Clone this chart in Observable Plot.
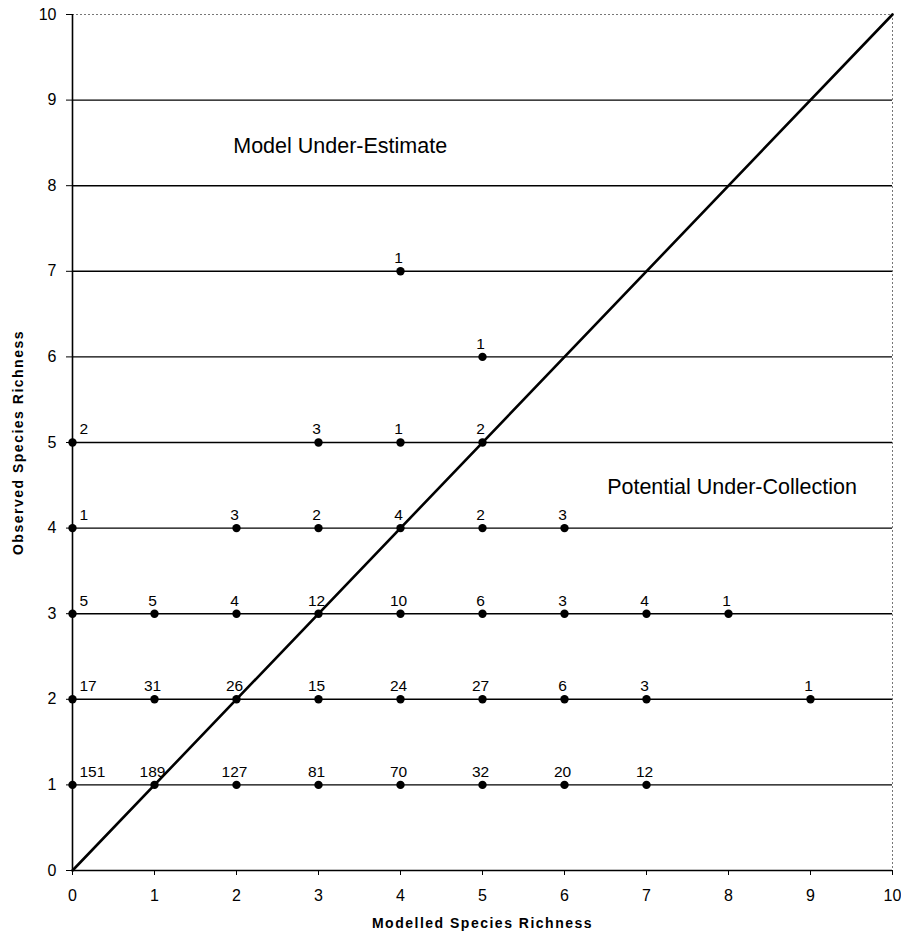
<!DOCTYPE html>
<html>
<head>
<meta charset="utf-8">
<script src="https://cdn.jsdelivr.net/npm/d3@7"></script>
<script src="https://cdn.jsdelivr.net/npm/@observablehq/plot@0.6"></script>
<style>
  html, body { margin: 0; padding: 0; background: #fff; }
  #chart svg { display: block; }
</style>
</head>
<body>
<div id="chart"></div>
<script>
// Modelled species richness (x), observed species richness (y), number of cells (count)
const modelled = [4, 5, 0, 3, 4, 5, 0, 2, 3, 4, 5, 6, 0, 1, 2, 3, 4, 5, 6, 7, 8, 0, 1, 2, 3, 4, 5, 6, 7, 9, 0, 1, 2, 3, 4, 5, 6, 7];
const observed = [7, 6, 5, 5, 5, 5, 4, 4, 4, 4, 4, 4, 3, 3, 3, 3, 3, 3, 3, 3, 3, 2, 2, 2, 2, 2, 2, 2, 2, 2, 1, 1, 1, 1, 1, 1, 1, 1];
const counts   = [1, 1, 2, 3, 1, 2, 1, 3, 2, 4, 2, 3, 5, 5, 4, 12, 10, 6, 3, 4, 1, 17, 31, 26, 15, 24, 27, 6, 3, 1, 151, 189, 127, 81, 70, 32, 20, 12];

const gridLevels = [1, 2, 3, 4, 5, 6, 7, 8, 9];
const tickValues = [0, 1, 2, 3, 4, 5, 6, 7, 8, 9, 10];
const diagonalX = [0, 10];
const diagonalY = [0, 10];
const annotationText = ["Model Under-Estimate", "Potential Under-Collection"];
const annotationX = [1.96, 6.52];
const annotationY = [8.46, 4.48];
const xTitle = "Modelled Species Richness";
const yTitle = "Observed Species Richness";

const points = modelled.map((x, i) => ({x, y: observed[i], n: counts[i]}));
const diagonal = diagonalX.map((x, i) => ({x, y: diagonalY[i]}));
const annotations = annotationText.map((t, i) => ({t, x: annotationX[i], y: annotationY[i]}));

const font = "Liberation Sans, Arial, Helvetica, sans-serif";

const chart = Plot.plot({
  width: 901,
  height: 939,
  marginLeft: 72,
  marginRight: 9,
  marginTop: 14,
  marginBottom: 69,
  style: {fontFamily: font, color: "#000", background: "#fff"},
  x: {domain: [0, 10]},
  y: {domain: [0, 10]},
  marks: [
    Plot.ruleY([10], {stroke: "#777", strokeWidth: 1, strokeDasharray: "2,2"}),
    Plot.ruleX([10], {stroke: "#777", strokeWidth: 1, strokeDasharray: "2,2"}),
    Plot.ruleY(gridLevels, {stroke: "#000", strokeWidth: 1.4}),
    Plot.ruleY([0], {stroke: "#000", strokeWidth: 1.6}),
    Plot.ruleX([0], {stroke: "#000", strokeWidth: 1.6}),
    Plot.line(diagonal, {x: "x", y: "y", stroke: "#000", strokeWidth: 2.6}),
    Plot.dot(points, {x: "x", y: "y", r: 4.2, fill: "#000", stroke: "none"}),
    Plot.text(points.filter(d => d.x > 0), {x: "x", y: "y", text: "n", dy: -13, dx: -2, fontSize: 15.5, fill: "#000"}),
    Plot.text(points.filter(d => d.x === 0), {x: "x", y: "y", text: "n", dy: -13, dx: 7, textAnchor: "start", fontSize: 15.5, fill: "#000"}),
    Plot.text(annotations, {x: "x", y: "y", text: "t", textAnchor: "start", fontSize: 21.5, fill: "#000"}),
    Plot.axisY({ticks: tickValues, tickSize: 6, tickPadding: 10, fontSize: 16, label: null, tickFormat: d => String(d)}),
    Plot.axisX({ticks: tickValues, tickSize: 5, tickPadding: 14, fontSize: 16, label: null, tickFormat: d => String(d)}),
    Plot.text([xTitle], {frameAnchor: "bottom", dy: 57, fontSize: 14, fontWeight: "bold", fill: "#000"}),
    Plot.text([yTitle], {frameAnchor: "left", dx: -54, rotate: -90, textAnchor: "middle", fontSize: 14, fontWeight: "bold", fill: "#000"})
  ]
});

d3.select(chart).selectAll("text").filter(function() {
  const t = d3.select(this).text();
  return t === xTitle || t === yTitle;
}).attr("letter-spacing", "1.5px");

document.getElementById("chart").appendChild(chart);
</script>
</body>
</html>
